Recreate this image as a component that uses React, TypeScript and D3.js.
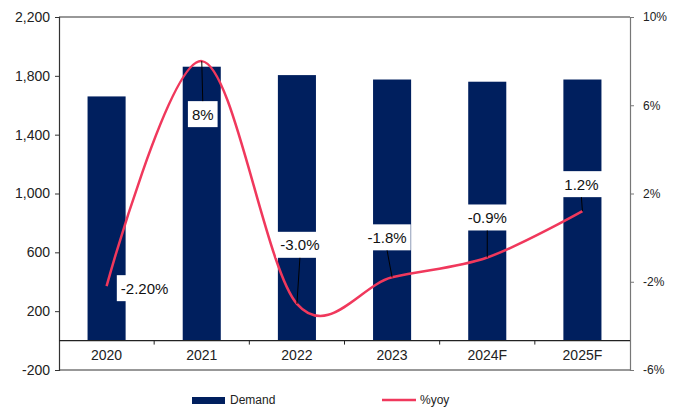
import React, { useRef, useEffect } from 'react'
import * as d3 from 'd3'

// chart values
const years = ['2020', '2021', '2022', '2023', '2024F', '2025F']
const demand = [1660, 1862, 1805, 1775, 1760, 1775]
const yoy = [-2.2, 8.0, -3.0, -1.8, -0.9, 1.2]
const yoyLabels = ['-2.20%', '8%', '-3.0%', '-1.8%', '-0.9%', '1.2%']
const leftTicks = [-200, 200, 600, 1000, 1400, 1800, 2200]
const rightTicks = [-6, -2, 2, 6, 10]

// pixel offsets of the data labels from their points
const labelOffsets: [number, number][] = [
  [38, 2],
  [1, 53],
  [3, -59],
  [-5, -40],
  [0, -40],
  [-1, -27],
]

const FONT = "'Liberation Sans', Arial, sans-serif"
const NAVY = '#001f5e'
const RED = '#f0385c'

const Chart: React.FC = () => {
  const svgRef = useRef<SVGSVGElement | null>(null)

  useEffect(() => {
    const svg = d3.select(svgRef.current)
    svg.selectAll('*').remove()

    const width = 681
    const height = 409
    const left = 59
    const right = 630
    const top = 17
    const bottom = 370

    svg.attr('width', width).attr('height', height)

    const x = d3
      .scaleBand()
      .domain(years)
      .range([left, right])
      .paddingInner(0.6)
      .paddingOuter(0.3)

    const step = (right - left) / years.length

    const y = d3.scaleLinear().domain([-200, 2200]).range([bottom, top])
    const y2 = d3.scaleLinear().domain([-6, 10]).range([bottom, top])

    // bars
    svg
      .append('g')
      .attr('fill', NAVY)
      .selectAll('rect')
      .data(demand)
      .enter()
      .append('rect')
      .attr('x', (_, i) => x(years[i])!)
      .attr('y', (d) => y(d))
      .attr('width', x.bandwidth())
      .attr('height', (d) => y(0) - y(d))

    // frame lines
    const frame = svg.append('g').attr('stroke', '#333').attr('stroke-width', 1.2)
    frame.append('line').attr('x1', left).attr('x2', right).attr('y1', top).attr('y2', top)
    frame.append('line').attr('x1', left).attr('x2', right).attr('y1', bottom).attr('y2', bottom)

    // left axis (plain hyphen for negatives, like the original)
    const fmt = d3.format(',')
    const ax = svg
      .append('g')
      .attr('transform', `translate(${left},0)`)
      .call(
        d3
          .axisLeft(y)
          .tickValues(leftTicks)
          .tickSize(4)
          .tickPadding(5)
          .tickFormat((d) => fmt(d as number).replace('\u2212', '-'))
      )
    ax.select('.domain').attr('stroke', '#333').attr('stroke-width', 1.2)
    ax.selectAll('.tick line').attr('stroke', '#333')
    ax.selectAll('text').attr('font-family', FONT).attr('font-size', 14).attr('fill', '#222')

    // right axis
    const ax2 = svg
      .append('g')
      .attr('transform', `translate(${right},0)`)
      .call(d3.axisRight(y2).tickValues(rightTicks).tickSize(4).tickPadding(9).tickFormat((d) => `${d}%`))
    ax2.select('.domain').attr('stroke', '#777').attr('stroke-width', 1.2)
    ax2.selectAll('.tick line').attr('stroke', '#777')
    ax2.selectAll('text').attr('font-family', FONT).attr('font-size', 12).attr('fill', '#222')

    // category axis at zero
    const zeroY = y(0)
    const xa = svg.append('g')
    xa.append('line')
      .attr('x1', left)
      .attr('x2', right)
      .attr('y1', zeroY)
      .attr('y2', zeroY)
      .attr('stroke', '#222')
      .attr('stroke-width', 1.2)
    xa.selectAll('line.tk')
      .data(years.slice(1))
      .enter()
      .append('line')
      .attr('class', 'tk')
      .attr('x1', (_, i) => left + step * (i + 1))
      .attr('x2', (_, i) => left + step * (i + 1))
      .attr('y1', zeroY)
      .attr('y2', zeroY + 4)
      .attr('stroke', '#222')
    xa.selectAll('text')
      .data(years)
      .enter()
      .append('text')
      .attr('x', (d) => x(d)! + x.bandwidth() / 2)
      .attr('y', (zeroY + bottom) / 2 + 5)
      .attr('text-anchor', 'middle')
      .attr('font-family', FONT)
      .attr('font-size', 14)
      .attr('fill', '#222')
      .text((d) => d)

    // %yoy line
    const cx = (i: number) => x(years[i])! + x.bandwidth() / 2
    const line = d3
      .line<number>()
      .x((_, i) => cx(i))
      .y((d) => y2(d))
      .curve(d3.curveCardinal.tension(0))
    svg
      .append('path')
      .datum(yoy)
      .attr('d', line)
      .attr('fill', 'none')
      .attr('stroke', RED)
      .attr('stroke-width', 2.5)

    // data labels
    const lab = svg.append('g')
    yoy.forEach((v, i) => {
      const px = cx(i)
      const py = y2(v)
      const lx = px + labelOffsets[i][0]
      const ly = py + labelOffsets[i][1]
      const g = lab.append('g')
      const rect = g.append('rect').attr('fill', '#fff')
      const t = g
        .append('text')
        .attr('x', lx)
        .attr('y', ly + 5.5)
        .attr('text-anchor', 'middle')
        .attr('font-family', FONT)
        .attr('font-size', 15)
        .attr('fill', '#111')
        .text(yoyLabels[i])
      const tw = (t.node() as SVGTextElement).getComputedTextLength()
      const bw = tw + 8
      const bh = 26
      rect
        .attr('x', lx - bw / 2)
        .attr('y', ly - bh / 2)
        .attr('width', bw)
        .attr('height', bh)
      // leader line when the label sits above or below its point
      if (Math.abs(labelOffsets[i][1]) > bh / 2 + 2) {
        const edge = labelOffsets[i][1] > 0 ? ly - bh / 2 : ly + bh / 2
        g.append('line')
          .attr('x1', lx)
          .attr('y1', edge)
          .attr('x2', px)
          .attr('y2', py)
          .attr('stroke', '#000')
          .attr('stroke-width', 1)
      }
    })

    // legend
    const leg = svg.append('g').attr('font-family', FONT).attr('font-size', 12).attr('fill', '#222')
    leg.append('rect').attr('x', 192).attr('y', 397).attr('width', 33).attr('height', 7).attr('fill', NAVY)
    leg.append('text').attr('x', 230).attr('y', 404).text('Demand')
    leg
      .append('line')
      .attr('x1', 382)
      .attr('x2', 416)
      .attr('y1', 400)
      .attr('y2', 400)
      .attr('stroke', RED)
      .attr('stroke-width', 2.5)
    leg.append('text').attr('x', 420).attr('y', 404).text('%yoy')
  }, [])

  return <svg ref={svgRef} style={{ position: 'absolute', left: 0, top: 0 }}></svg>
}

export default function App() {
  return <Chart />
}
